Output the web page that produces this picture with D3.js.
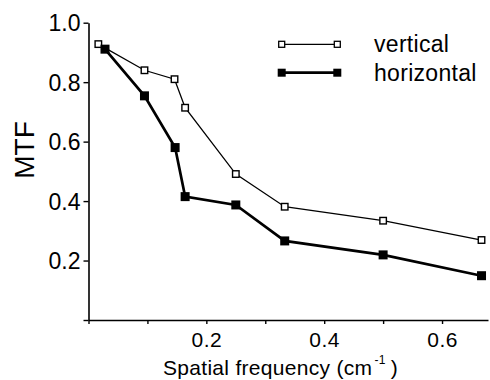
<!DOCTYPE html>
<html><head><meta charset="utf-8">
<script src="https://cdn.jsdelivr.net/npm/d3@7"></script>
<style>body{margin:0;background:#fff}svg{display:block}text{font-family:"Liberation Sans",Arial,Helvetica,sans-serif;fill:#000}</style>
</head><body>
<svg id="c" width="490" height="380"></svg>
<script>
// Data
const seriesNames = ["vertical", "horizontal"];
const verticalX = [0.0167, 0.095, 0.146, 0.164, 0.25, 0.333, 0.5, 0.667];
const verticalY = [0.928, 0.840, 0.810, 0.714, 0.491, 0.381, 0.334, 0.269];
const horizontalX = [0.028, 0.095, 0.147, 0.164, 0.25, 0.333, 0.5, 0.667];
const horizontalY = [0.911, 0.754, 0.580, 0.415, 0.387, 0.266, 0.219, 0.149];
const xTicks = [0, 0.1, 0.2, 0.3, 0.4, 0.5, 0.6];
const xTickLabels = ["", "", "0.2", "", "0.4", "", "0.6"];
const yTicks = [0, 0.2, 0.4, 0.6, 0.8, 1.0];
const yTickLabels = ["", "0.2", "0.4", "0.6", "0.8", "1.0"];

const svg = d3.select("#c");
const x = d3.scaleLinear().domain([0, 0.678]).range([88.5, 488]);
const y = d3.scaleLinear().domain([0, 1]).range([320, 22.7]);

// axes
const xa = svg.append("g").attr("transform", `translate(0,${y(0)})`)
  .call(d3.axisBottom(x).tickValues(xTicks).tickSize(4).tickSizeOuter(0).tickPadding(8)
    .tickFormat((d, i) => xTickLabels[i]));
const ya = svg.append("g").attr("transform", `translate(${x(0)},0)`)
  .call(d3.axisLeft(y).tickValues(yTicks).tickSize(5).tickSizeOuter(0).tickPadding(3)
    .tickFormat((d, i) => yTickLabels[i]));
[xa, ya].forEach(g => {
  g.select(".domain").attr("stroke", "#000").attr("stroke-width", 1.6);
  g.selectAll(".tick line").attr("stroke", "#000").attr("stroke-width", 1.4);
  g.selectAll("text").attr("fill", "#000").style("font-family", '"Liberation Sans",Arial,sans-serif');
});
xa.selectAll("text").style("font-size", "21px").style("letter-spacing", "0.5px");
ya.selectAll("text").style("font-size", "23px").attr("dy", "0.36em");

// axis titles
svg.append("text").attr("transform", `translate(33.5,150) rotate(-90)`)
  .attr("text-anchor", "middle").style("font-size", "28px").text("MTF");
const xt = svg.append("text").attr("x", 163).attr("y", 375).style("font-size", "21px").style("letter-spacing", "0.3px");
xt.append("tspan").text("Spatial frequency (cm");
xt.append("tspan").attr("dy", -11).attr("dx", 2).style("font-size", "12px").text("-1");
xt.append("tspan").attr("dy", 11).attr("dx", 5).text(")");

// series
const vData = verticalX.map((d, i) => [d, verticalY[i]]);
const hData = horizontalX.map((d, i) => [d, horizontalY[i]]);
const line = d3.line().x(d => x(d[0])).y(d => y(d[1]));

svg.append("path").datum(vData).attr("d", line).attr("fill", "none").attr("stroke", "#000").attr("stroke-width", 1.3);
svg.append("path").datum(hData).attr("d", line).attr("fill", "none").attr("stroke", "#000").attr("stroke-width", 2.7);

const os = 6.5, fs = 9;
svg.selectAll(".vm").data(vData).join("rect").attr("class", "vm")
  .attr("x", d => x(d[0]) - os/2).attr("y", d => y(d[1]) - os/2).attr("width", os).attr("height", os)
  .attr("fill", "#fff").attr("stroke", "#000").attr("stroke-width", 1.4);
svg.selectAll(".hm").data(hData).join("rect").attr("class", "hm")
  .attr("x", d => x(d[0]) - fs/2).attr("y", d => y(d[1]) - fs/2).attr("width", fs).attr("height", fs)
  .attr("fill", "#000");

// legend
const lg = [{name: seriesNames[0], yy: 44.3, w: 1.3, filled: false}, {name: seriesNames[1], yy: 72.7, w: 2.7, filled: true}];
lg.forEach(l => {
  svg.append("line").attr("x1", 281.7).attr("x2", 337.3).attr("y1", l.yy).attr("y2", l.yy)
    .attr("stroke", "#000").attr("stroke-width", l.w);
  [281.7, 337.3].forEach(cx => {
    const s = l.filled ? 8 : 6;
    svg.append("rect").attr("x", cx - s/2).attr("y", l.yy - s/2).attr("width", s).attr("height", s)
      .attr("fill", l.filled ? "#000" : "#fff").attr("stroke", "#000").attr("stroke-width", l.filled ? 0 : 1.3);
  });
  svg.append("text").attr("x", 374).attr("y", l.yy + 8).style("font-size", "23px").style("letter-spacing", "0.3px").text(l.name);
});
</script>
</body></html>
